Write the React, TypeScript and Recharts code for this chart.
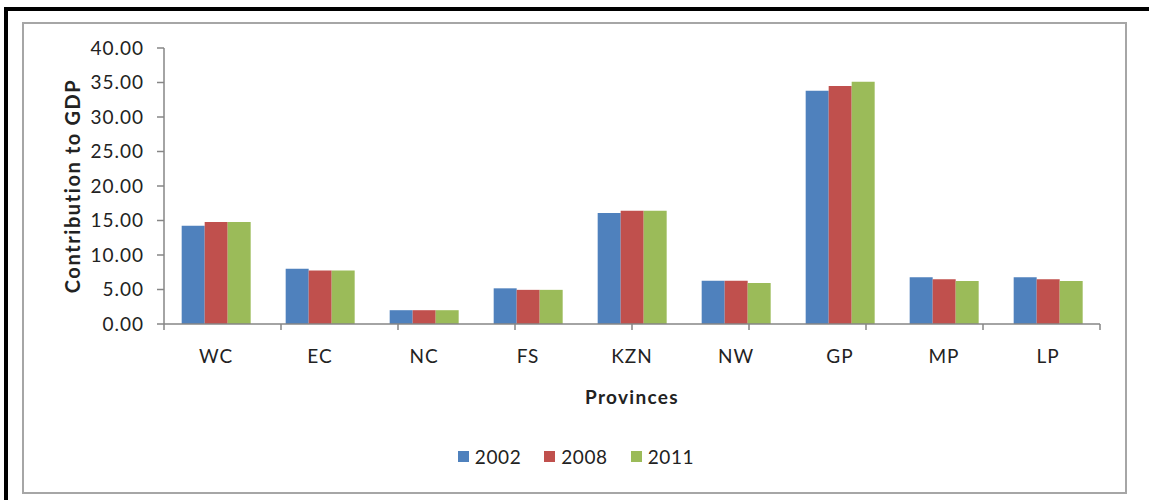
import { Bar, BarChart, XAxis, YAxis } from "recharts";

const provinces = ["WC", "EC", "NC", "FS", "KZN", "NW", "GP", "MP", "LP"];
const gdp2002 = [14.25, 8.0, 2.0, 5.17, 16.1, 6.28, 33.8, 6.77, 6.77];
const gdp2008 = [14.8, 7.75, 2.0, 4.95, 16.4, 6.28, 34.5, 6.47, 6.47];
const gdp2011 = [14.8, 7.75, 2.0, 4.95, 16.4, 5.94, 35.1, 6.23, 6.23];
const yTicks = [0, 5, 10, 15, 20, 25, 30, 35, 40];
const boundaryTicks = [0, 1, 2, 3, 4, 5, 6, 7, 8, 9];

const series = [
  { key: "y2002", name: "2002", color: "#4F81BD" },
  { key: "y2008", name: "2008", color: "#C0504D" },
  { key: "y2011", name: "2011", color: "#9BBB59" },
];

const data = provinces.map((p, i) => ({
  name: p,
  y2002: gdp2002[i],
  y2008: gdp2008[i],
  y2011: gdp2011[i],
}));

const font = "Lato, 'Open Sans', sans-serif";
const axisGray = "#868686";
const textStyle = { fill: "#222", fontSize: 19, fontFamily: font, letterSpacing: 1 };

export default function App() {
  return (
    <div style={{ position: "absolute", left: 0, top: 0, width: 1149, height: 500, background: "#fff" }}>
      {/* black frame, top and left only */}
      <div
        style={{
          position: "absolute",
          left: 4,
          top: 7,
          width: 1145,
          height: 493,
          borderTop: "4px solid #000",
          borderLeft: "4px solid #000",
          boxSizing: "border-box",
        }}
      />
      {/* chart area box */}
      <div
        style={{
          position: "absolute",
          left: 22,
          top: 22,
          width: 1105,
          height: 472,
          border: "2px solid #a6a6a6",
          boxSizing: "border-box",
        }}
      />
      <div style={{ position: "absolute", left: 0, top: 0 }}>
        <BarChart
          width={1149}
          height={500}
          data={data}
          margin={{ top: 48, right: 49, bottom: 145, left: 44 }}
          barCategoryGap="17%"
          barGap={0}
        >
          {/* boundary ticks between provinces */}
          <XAxis
            xAxisId="a"
            type="number"
            domain={[0, 9]}
            ticks={boundaryTicks}
            interval={0}
            allowDataOverflow
            height={1}
            tickSize={6}
            tickFormatter={() => ""}
            stroke={axisGray}
            strokeWidth={1.5}
          />
          <XAxis
            xAxisId="b"
            dataKey="name"
            height={30}
            axisLine={false}
            tickLine={false}
            tickSize={0}
            tickMargin={25}
            tick={textStyle}
            label={{
              value: "Provinces",
              position: "insideBottom",
              offset: -49,
              style: { ...textStyle, fontWeight: 700, letterSpacing: 1.3 },
            }}
          />
          <YAxis
            domain={[0, 40]}
            ticks={yTicks}
            interval={0}
            width={120}
            tickSize={7}
            tickMargin={13}
            tickFormatter={(v: number) => v.toFixed(2)}
            stroke={axisGray}
            strokeWidth={1.5}
            tick={textStyle}
            label={{
              value: "Contribution to GDP",
              angle: -90,
              position: "insideLeft",
              offset: 29,
              style: { ...textStyle, textAnchor: "middle", fontSize: 20, fontWeight: 700, letterSpacing: 1.6 },
            }}
          />
          {series.map((s) => (
            <Bar
              key={s.key}
              xAxisId="b"
              dataKey={s.key}
              name={s.name}
              fill={s.color}
              isAnimationActive={false}
            />
          ))}
        </BarChart>
      </div>
      {/* legend */}
      <div
        style={{
          position: "absolute",
          left: 0,
          top: 445,
          width: 1152,
          display: "flex",
          justifyContent: "center",
          gap: 23,
          fontFamily: font,
          fontSize: 19,
          letterSpacing: 0.6,
          color: "#222",
        }}
      >
        {series.map((s) => (
          <div key={s.key} style={{ display: "flex", alignItems: "center", gap: 6 }}>
            <span style={{ width: 11, height: 11, background: s.color, display: "inline-block" }} />
            <span>{s.name}</span>
          </div>
        ))}
      </div>
    </div>
  );
}
